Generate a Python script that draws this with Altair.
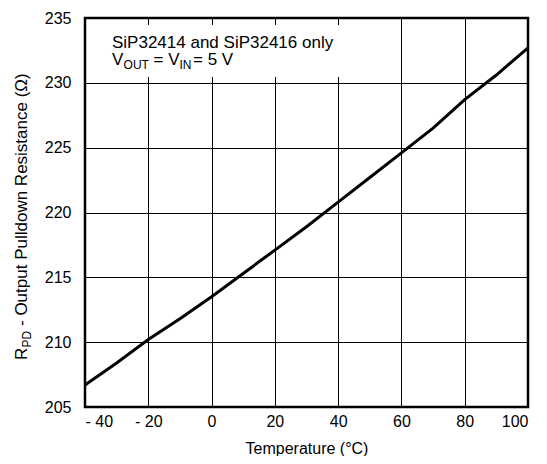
import altair as alt
import pandas as pd

temps = [-40, -30, -20, -10, 0, 10, 20, 30, 40, 50, 60, 70, 80, 90, 100]
rpd = [206.7, 208.4, 210.2, 211.8, 213.5, 215.3, 217.1, 218.9, 220.8, 222.7, 224.6, 226.5, 228.7, 230.6, 232.7]
x_ticks = [-40, -20, 0, 20, 40, 60, 80, 100]
y_ticks = [205, 210, 215, 220, 225, 230, 235]

FONT = "Liberation Sans"
W, H = 443, 389

df = pd.DataFrame({"t": temps, "r": rpd})

base = alt.Chart(df)

line = base.mark_line(color="black", strokeWidth=3).encode(
    x=alt.X("t:Q", scale=alt.Scale(domain=[-40, 100], nice=False),
            axis=alt.Axis(values=x_ticks, title="Temperature (°C)",
                          labelExpr="datum.value < 0 ? '- ' + abs(datum.value) : datum.label",
                          labelPadding=6, titlePadding=11)),
    y=alt.Y("r:Q", scale=alt.Scale(domain=[205, 235], nice=False, zero=False),
            axis=alt.Axis(values=y_ticks, title=None, labelPadding=14)),
)

one = pd.DataFrame({"a": [0]})
box = alt.Chart(one).mark_rect(color="white").encode(
    x=alt.value(2), x2=alt.value(260), y=alt.value(7), y2=alt.value(59)
)

def txt(s, x, y, size, angle=0):
    return alt.Chart(one).mark_text(
        text=s, align="left", baseline="alphabetic", font=FONT, fontSize=size,
        color="black", angle=angle
    ).encode(x=alt.value(x), y=alt.value(y))

ann = [
    txt("SiP32414 and SiP32416 only", 27, 30, 17),
    txt("V", 27, 47, 17),
    txt("OUT", 38.6, 51, 12),
    txt("= V", 68.5, 47, 17),
    txt("IN", 94.5, 51, 12),
    txt("= 5 V", 108, 47, 17),
    # rotated y title
    txt("R", -58, 342, 17, 270),
    txt("PD", -54, 329.5, 12, 270),
    txt("- Output Pulldown Resistance (Ω)", -58, 308, 17, 270),
]

chart = alt.layer(line, box, *ann).properties(
    width=W, height=H,
    autosize=alt.AutoSizeParams(type="none"),
    padding={"left": 77, "top": 10, "right": 11, "bottom": 49},
).configure_view(
    stroke="black", strokeWidth=2.5
).configure_axis(
    grid=True, gridColor="black", gridWidth=1, gridOpacity=1,
    domain=False, ticks=False,
    labelFont=FONT, labelFontSize=16, labelColor="black",
    titleFont=FONT, titleFontSize=16, titleColor="black", titleFontWeight="normal",
)

chart.save("out.html", embed_options={"renderer": "svg", "actions": False})
